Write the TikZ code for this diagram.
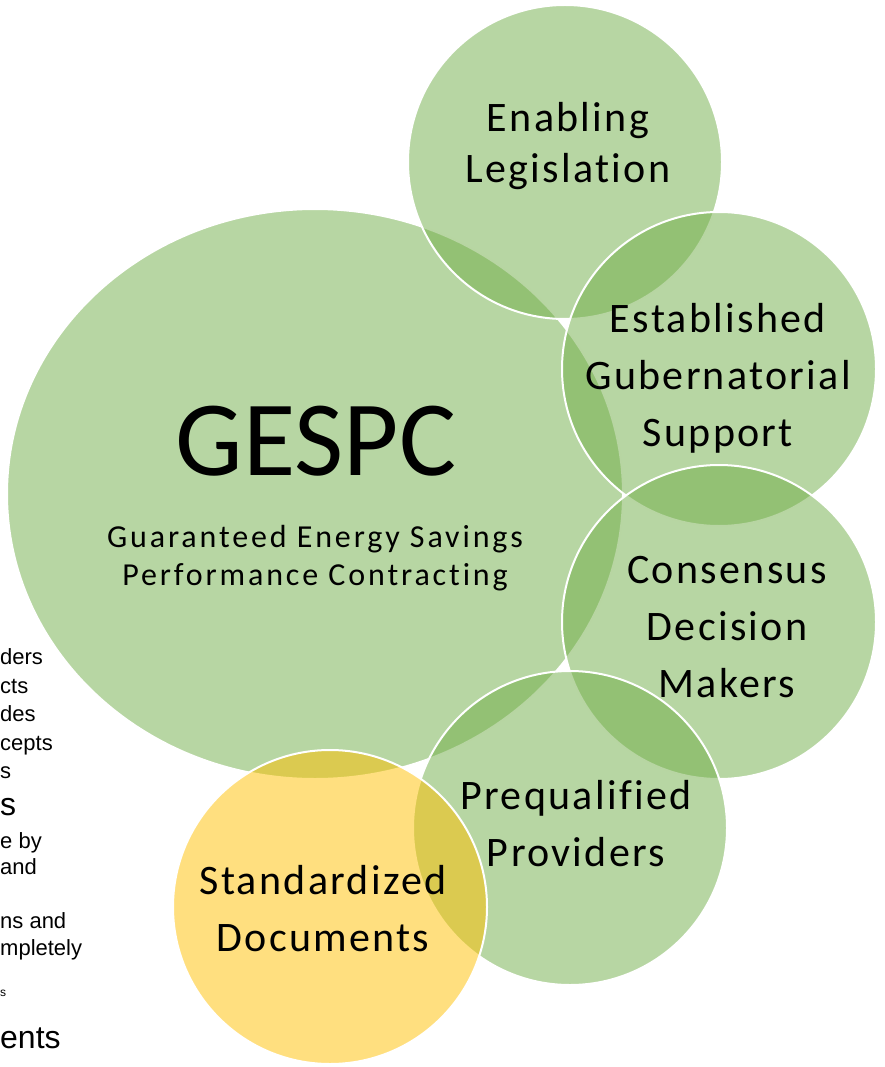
\documentclass[tikz,border=0pt]{standalone}
\usepackage{fontspec}
\setmainfont{Carlito}
\newfontfamily\labelfont[LetterSpace=5.5,Ligatures=NoCommon]{Carlito}
\newfontfamily\subfont[LetterSpace=9,Ligatures=NoCommon]{Carlito}
\newfontfamily\slidefont{Liberation Sans}
\definecolor{venngreen}{HTML}{70AD47}
\definecolor{vennyellow}{HTML}{FFC000}
\begin{document}
\begin{tikzpicture}[x=1pt,y=-1pt,line join=round,
	venn/.style={fill=#1,fill opacity=0.5,draw=white,draw opacity=1,line width=2pt},
	lbl/.style={align=center,inner sep=0pt,font=\labelfont\fontsize{42}{57}\selectfont},
	frag/.style={anchor=base west,inner sep=0pt,font=\slidefont\fontsize{22}{25}\selectfont}]
	\def\rr{157} % ban kinh vong nho
	\useasboundingbox (0,0) rectangle (884,1067);
	\path 
	(315,494) coordinate (G)
	(565,162) coordinate (E)
	(719,369) coordinate (S)
	(719,622) coordinate (C)
	(570,828) coordinate (P)
	(330,907) coordinate (D);
	% chu o ben trai
	\node[frag] (f1) at (0,664) {ders};
	\node[frag] (f2) at (0,693) {cts};
	\node[frag] (f3) at (0,721) {des};
	\node[frag] (f4) at (0,750) {cepts};
	\node[frag] (f5) at (0,778) {s};
	\node[frag,font=\slidefont\fontsize{32}{36}\selectfont] (f6) at (0,815) {s};
	\node[frag] (f7) at (0,848) {e by};
	\node[frag] (f8) at (0,874) {and};
	\node[frag] (f9) at (0,928) {ns and};
	\node[frag] (f10) at (0,955) {mpletely};
	\node[frag,font=\slidefont\fontsize{12}{14}\selectfont] (f11) at (0,996) {s};
	\node[frag,font=\slidefont\fontsize{32}{36}\selectfont] (f12) at (0,1048) {ents};
	% cac vong tron
	\draw[venn=venngreen] (G) ellipse [x radius=308pt, y radius=285pt];
	\draw[venn=venngreen] (E) circle [radius=\rr pt];
	\draw[venn=venngreen] (S) circle [radius=\rr pt];
	\draw[venn=venngreen] (C) circle [radius=\rr pt];
	\draw[venn=venngreen] (P) circle [radius=\rr pt];
	\draw[venn=vennyellow] (D) circle [radius=\rr pt];
	% chu
	\node[inner sep=0pt,font=\fontsize{107}{110}\selectfont] (gespc) at (316,441) {GESPC};
	\node[lbl,font=\subfont\fontsize{32}{38}\selectfont] (full) at (315,558) {Guaranteed Energy Savings\\Performance Contracting};
	\node[lbl,font=\labelfont\fontsize{42}{51}\selectfont] (enabling) at (568,146) {Enabling\\Legislation};
	\node[lbl] (support) at (718,378) {Established\\Gubernatorial\\Support};
	\node[lbl] (consensus) at (727,627) {Consensus\\Decision\\Makers};
	\node[lbl] (providers) at (576,824) {Prequalified\\Providers};
	\node[lbl] (documents) at (323,909) {Standardized\\Documents};
\end{tikzpicture}
\end{document}
